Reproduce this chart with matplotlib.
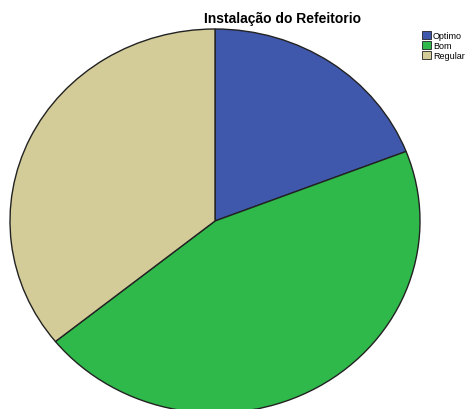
import matplotlib.pyplot as plt
from matplotlib.patches import Patch

plt.rcParams['font.family'] = ['Liberation Sans', 'DejaVu Sans']

categories = ["Optimo", "Bom", "Regular"]
percent = [19.1, 45.1, 35.8]
colours = ["#3f58ac", "#2fb94b", "#d3cc98"]

W, H = 467, 410
fig = plt.figure(figsize=(W / 100, H / 100), dpi=100)

# pie axes in pixel terms: x 10..420, y 30..414 (bottom runs off the figure)
ax = fig.add_axes([10 / W, (H - 414) / H, 410 / W, 384 / H])
ax.pie(percent, colors=colours, startangle=90, counterclock=False,
       wedgeprops=dict(edgecolor="#222222", linewidth=1.0))
ax.set_aspect("auto")
ax.set_xlim(-1, 1)
ax.set_ylim(-1, 1)
ax.axis("off")

fig.text(283 / W, 1 - 19 / H, "Instalação do Refeitorio", ha="center", va="center",
         fontsize=10, fontweight="bold")

handles = [Patch(facecolor=c, edgecolor="#222222", linewidth=0.6) for c in colours]
fig.legend(handles, categories, loc="upper left", bbox_to_anchor=(422 / W, 1 - 32 / H),
           frameon=False, fontsize=6.5, handlelength=1.0, handleheight=1.0,
           labelspacing=0.1, handletextpad=0.2, borderpad=0, borderaxespad=0)

fig.savefig("out.png", dpi=100)
